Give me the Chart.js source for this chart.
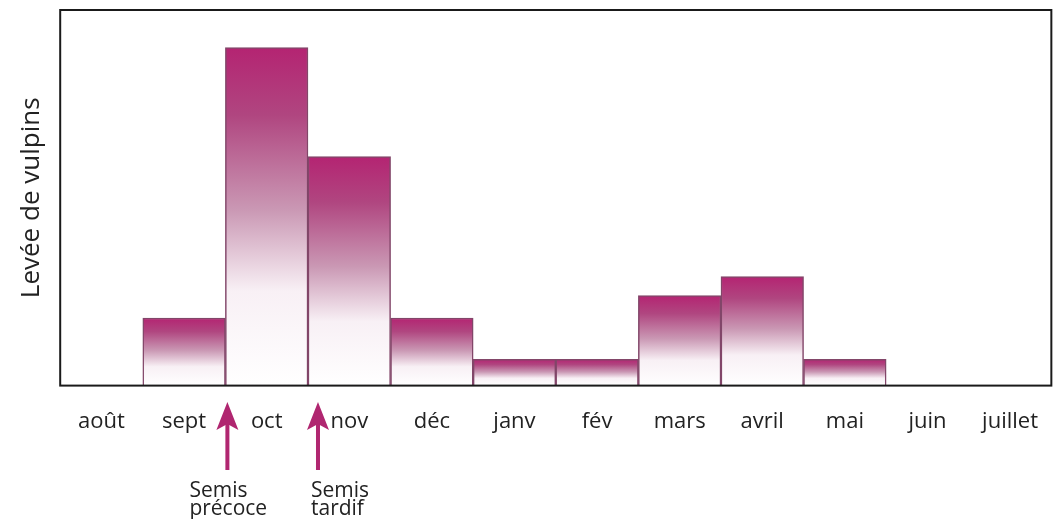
<!DOCTYPE html>
<html>
<head>
<meta charset="utf-8">
<script src="https://cdn.jsdelivr.net/npm/chart.js@4/dist/chart.umd.min.js"></script>
<style>
  html, body { margin: 0; padding: 0; background: #fff; }
  #wrap { width: 1061px; height: 519px; }
</style>
</head>
<body>
<div id="wrap"><canvas id="levee"></canvas></div>
<script>
const months = ["août", "sept", "oct", "nov", "déc", "janv", "fév", "mars", "avril", "mai", "juin", "juillet"];
const levee = [0, 18, 90, 61, 18, 7, 7, 24, 29, 7, 0, 0];
const semisLabels = [["Semis", "précoce"], ["Semis", "tardif"]];
const semisAfter = [1, 2]; // arrow sits on the boundary after this month index

const magenta = "rgb(176, 38, 112)";

function barGradient(context) {
  const chart = context.chart;
  const area = chart.chartArea;
  if (!area || context.type !== "data") return magenta;
  const y = chart.scales.y;
  const top = y.getPixelForValue(levee[context.dataIndex]);
  const base = y.getPixelForValue(0);
  if (base - top < 1) return "rgba(0,0,0,0)";
  const g = chart.ctx.createLinearGradient(0, top, 0, base);
  g.addColorStop(0, "rgb(180, 36, 114)");
  g.addColorStop(0.2, "rgb(176, 70, 128)");
  g.addColorStop(0.48, "rgb(202, 152, 180)");
  g.addColorStop(0.72, "rgb(248, 240, 245)");
  g.addColorStop(1, "rgb(255, 255, 255)");
  return g;
}

const frame = {
  id: "frame",
  afterDatasetsDraw(chart) {
    const { ctx, chartArea: a } = chart;
    ctx.save();
    ctx.strokeStyle = "#1a1a1a";
    ctx.lineWidth = 2;
    ctx.strokeRect(a.left, a.top, a.right - a.left, a.bottom - a.top);
    ctx.restore();
  }
};

const arrows = {
  id: "arrows",
  afterDraw(chart) {
    const { ctx } = chart;
    const x = chart.scales.x;
    ctx.save();
    semisAfter.forEach((idx, k) => {
      const px = (x.getPixelForValue(idx) + x.getPixelForValue(idx + 1)) / 2 + (k === 0 ? 2 : 10);
      const tipY = 402, headY = 430, endY = 470;
      ctx.fillStyle = magenta;
      ctx.beginPath();
      ctx.moveTo(px, tipY);
      ctx.lineTo(px - 11, headY);
      ctx.lineTo(px, headY - 6);
      ctx.lineTo(px + 11, headY);
      ctx.closePath();
      ctx.fill();
      ctx.fillRect(px - 2, headY - 7, 4, endY - headY + 7);
      ctx.fillStyle = "#222";
      ctx.font = "21px 'Open Sans', sans-serif";
      ctx.textAlign = "left";
      ctx.textBaseline = "alphabetic";
      const tx = k === 0 ? px - 38 : px - 7;
      ctx.fillText(semisLabels[k][0], tx, 497);
      ctx.fillText(semisLabels[k][1], tx, 515);
    });
    ctx.restore();
  }
};

new Chart(document.getElementById("levee"), {
  type: "bar",
  data: {
    labels: months,
    datasets: [{
      label: "Levée de vulpins",
      data: levee,
      backgroundColor: barGradient,
      borderColor: "rgb(130, 70, 105)",
      borderWidth: 1.5,
      borderSkipped: "bottom",
      barPercentage: 1,
      categoryPercentage: 1
    }]
  },
  options: {
    responsive: true,
    maintainAspectRatio: false,
    animation: false,
    layout: { padding: { left: 5, right: 0, top: 10, bottom: 61 } },
    plugins: {
      legend: { display: false },
      tooltip: { enabled: false }
    },
    scales: {
      x: {
        grid: { display: false, drawTicks: false },
        border: { display: false },
        ticks: {
          color: "#222",
          font: { family: "'Open Sans', sans-serif", size: 22 },
          padding: 23,
          maxRotation: 0,
          autoSkip: false
        }
      },
      y: {
        min: 0,
        max: 100,
        grid: { display: false, drawTicks: false },
        border: { display: false },
        ticks: { display: false },
        title: {
          display: true,
          text: "Levée de vulpins",
          color: "#222",
          font: { family: "'Open Sans', sans-serif", size: 26 },
          padding: { top: 11, bottom: 13 }
        }
      }
    }
  },
  plugins: [frame, arrows]
});
</script>
</body>
</html>
